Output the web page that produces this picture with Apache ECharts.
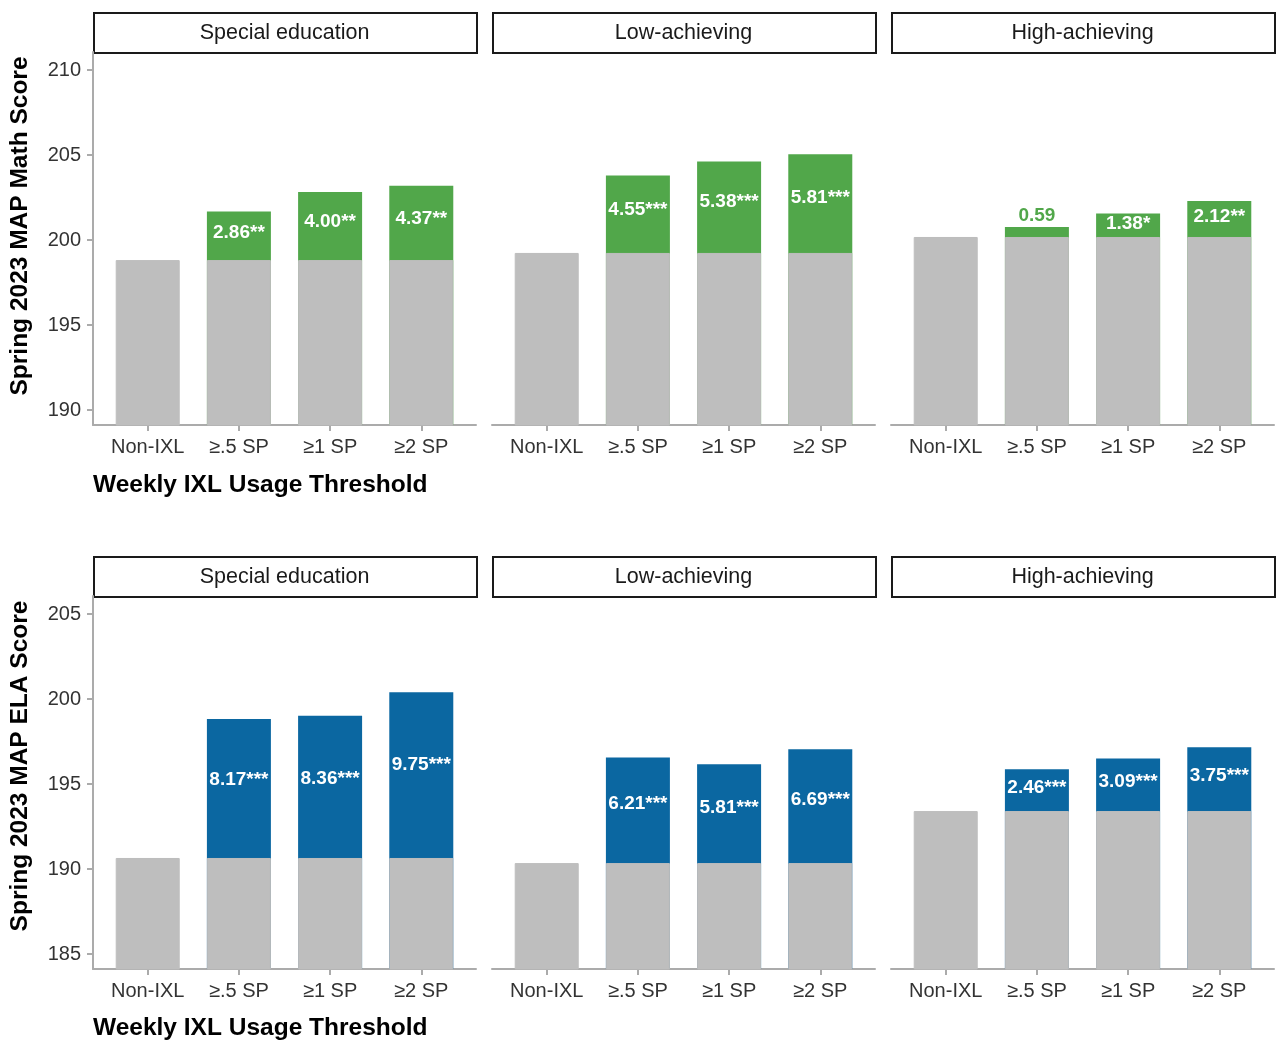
<!DOCTYPE html>
<html>
<head>
<meta charset="utf-8">
<script src="https://cdn.jsdelivr.net/npm/echarts@6/dist/echarts.min.js"></script>
<style>
  html, body { margin: 0; padding: 0; background: #fff; }
  #main { width: 1278px; height: 1040px; }
</style>
</head>
<body>
<div id="main"></div>
<script>
// ---- data ----
var categories = ['Non-IXL', '≥.5 SP', '≥1 SP', '≥2 SP'];
var groups = ['Special education', 'Low-achieving', 'High-achieving'];

var mathBase = [198.82, 199.24, 200.18];
var mathGain = [[2.86, 4.00, 4.37], [4.55, 5.38, 5.81], [0.59, 1.38, 2.12]];
var mathStars = [['**', '**', '**'], ['***', '***', '***'], ['', '*', '**']];
var mathTicks = [190, 195, 200, 205, 210];

var elaBase = [190.65, 190.35, 193.41];
var elaGain = [[8.17, 8.36, 9.75], [6.21, 5.81, 6.69], [2.46, 3.09, 3.75]];
var elaStars = [['***', '***', '***'], ['***', '***', '***'], ['***', '***', '***']];
var elaTicks = [185, 190, 195, 200, 205];

// ---- layout ----
var FONT = '"Liberation Sans", Arial, sans-serif';
var GRAY = '#BEBEBE', AXIS = '#ABABAB';
var LEFTS = [93, 492, 891], PW = 383, PH = 373;
var rows = [
  { base: mathBase, gain: mathGain, stars: mathStars, ticks: mathTicks,
    min: 189.12, max: 211.06, color: '#51A74A', top: 52,
    title: 'Spring 2023 MAP Math Score', titleY: 226, xTitleY: 485 },
  { base: elaBase, gain: elaGain, stars: elaStars, ticks: elaTicks,
    min: 184.12, max: 206.06, color: '#0B67A1', top: 596,
    title: 'Spring 2023 MAP ELA Score', titleY: 766, xTitleY: 1028 }
];

var grid = [], xAxis = [], yAxis = [], series = [], graphic = [];
var barW = Math.round(0.7 * PW / 4.2);

rows.forEach(function (row, r) {
  row.base.forEach(function (base, g) {
    var idx = r * 3 + g;
    grid.push({ left: LEFTS[g], top: row.top, width: PW, height: PH });
    xAxis.push({
      type: 'value', gridIndex: idx, min: 0.4, max: 4.6,
      splitLine: { show: false },
      axisLine: { show: true, lineStyle: { color: AXIS, width: 2 } },
      axisTick: { show: true, customValues: [1, 2, 3, 4], length: 6, lineStyle: { color: AXIS, width: 2 } },
      axisLabel: {
        customValues: [1, 2, 3, 4], margin: 12,
        color: '#333', fontSize: 20, fontFamily: FONT,
        formatter: function (v) { return categories[v - 1]; }
      }
    });
    yAxis.push({
      type: 'value', gridIndex: idx, min: row.min, max: row.max,
      splitLine: { show: false },
      axisLine: { show: g === 0, lineStyle: { color: AXIS, width: 2 } },
      axisTick: { show: g === 0, customValues: row.ticks, length: 6, lineStyle: { color: AXIS, width: 2 } },
      axisLabel: {
        show: g === 0, customValues: row.ticks, margin: 12,
        color: '#333', fontSize: 20, fontFamily: FONT
      }
    });

    var totals = [], grays = [], labels = [];
    for (var i = 0; i < 4; i++) grays.push([i + 1, base]);
    row.gain[g].forEach(function (v, k) {
      var x = k + 2;
      totals.push([x, base + v]);
      var txt = v.toFixed(2) + row.stars[g][k];
      if (v < 1) {
        labels.push({ value: [x, base + v], txt: txt,
          label: { position: 'top', distance: 1, color: row.color } });
      } else {
        // slightly above the middle of the coloured segment
        labels.push({ value: [x, base + v * 0.56], txt: txt,
          label: { position: 'inside' } });
      }
    });

    series.push({
      type: 'bar', xAxisIndex: idx, yAxisIndex: idx, data: totals,
      barWidth: barW, barGap: '-100%', z: 2,
      itemStyle: { color: row.color }
    });
    series.push({
      type: 'bar', xAxisIndex: idx, yAxisIndex: idx, data: grays,
      barWidth: barW, barGap: '-100%', z: 3,
      itemStyle: { color: GRAY, borderColor: GRAY, borderWidth: 1 }
    });
    series.push({
      type: 'scatter', xAxisIndex: idx, yAxisIndex: idx, data: labels,
      symbolSize: 1, itemStyle: { color: 'transparent', opacity: 1 }, z: 5, silent: true,
      label: {
        show: true, color: '#fff', fontFamily: FONT, fontSize: 19, fontWeight: 'bold',
        formatter: function (p) { return p.data.txt; }
      }
    });

    // facet strip
    graphic.push({
      type: 'rect', left: LEFTS[g], top: row.top - 40,
      shape: { width: PW, height: 40 },
      style: { fill: '#fff', stroke: '#1a1a1a', lineWidth: 2 }
    });
    graphic.push({
      type: 'text', x: LEFTS[g] + PW / 2, y: row.top - 19,
      style: { text: groups[g], fill: '#1a1a1a', font: '21.5px ' + FONT,
        textAlign: 'center', textVerticalAlign: 'middle' }
    });
  });

  graphic.push({
    type: 'text', x: 20, y: row.titleY, rotation: Math.PI / 2,
    style: { text: row.title, fill: '#000', font: 'bold 24.5px ' + FONT,
      textAlign: 'center', textVerticalAlign: 'middle' }
  });
  graphic.push({
    type: 'text', x: 93, y: row.xTitleY,
    style: { text: 'Weekly IXL Usage Threshold', fill: '#000', font: 'bold 24.5px ' + FONT,
      textAlign: 'left', textVerticalAlign: 'middle' }
  });
});

var chart = echarts.init(document.getElementById('main'));
chart.setOption({
  animation: false,
  grid: grid,
  xAxis: xAxis,
  yAxis: yAxis,
  series: series,
  graphic: graphic
});
</script>
</body>
</html>
